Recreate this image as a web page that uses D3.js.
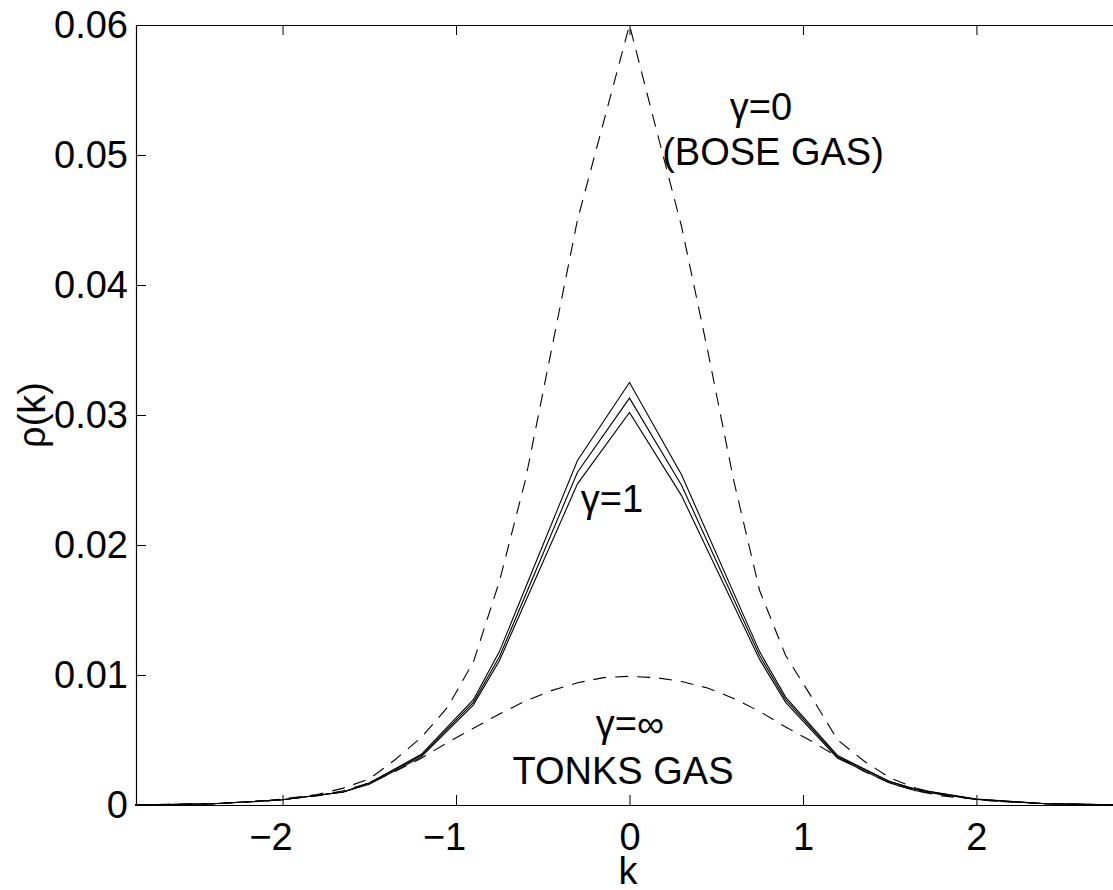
<!DOCTYPE html>
<html>
<head>
<meta charset="utf-8">
<script src="https://cdn.jsdelivr.net/npm/d3@7"></script>
<style>
  body { margin: 0; background: #fff; }
  svg { display: block; }
  text { font-family: "Liberation Sans", Arial, sans-serif; fill: #000; }
  .tick line { stroke: #000; }
  .domain { stroke: #000; }
</style>
</head>
<body>
<svg width="1113" height="890"></svg>
<script>
// gamma = 1 curves (three solid lines)
const kSolid = [-2.85, -2.4, -2.0, -1.65, -1.5, -1.2, -0.9, -0.75, -0.3, 0, 0.3, 0.75, 0.9, 1.2, 1.5, 1.65, 2.0, 2.4, 2.85];
const solidUpper = [0, 0.0001, 0.0004, 0.0010, 0.0017, 0.0039, 0.0081, 0.0118, 0.0265, 0.0325, 0.0254, 0.0118, 0.0083, 0.0038, 0.0018, 0.0012, 0.00045, 0.0001, 0];
const solidMid   = [0, 0.0001, 0.0004, 0.0010, 0.0017, 0.0038, 0.0079, 0.0114, 0.0256, 0.0313, 0.0246, 0.0115, 0.0081, 0.0037, 0.0018, 0.0012, 0.00044, 0.0001, 0];
const solidLower = [0, 0.0001, 0.0004, 0.0010, 0.0016, 0.0037, 0.0077, 0.0111, 0.0247, 0.0302, 0.0238, 0.0112, 0.0079, 0.0036, 0.0017, 0.0011, 0.00043, 0.0001, 0];

// gamma = 0 (Bose gas) and gamma = infinity (Tonks gas), dashed
const kDashed = [-2.85, -2.4, -2.1, -1.8, -1.65, -1.5, -1.35, -1.2, -1.05, -0.9, -0.75, -0.6, -0.45, -0.3, -0.15, 0, 0.15, 0.3, 0.45, 0.6, 0.75, 0.9, 1.05, 1.2, 1.35, 1.5, 1.65, 1.8, 2.1, 2.4, 2.85];
const bose  = [0, 0.0001, 0.0003, 0.0008, 0.0013, 0.0020, 0.0035, 0.0052, 0.0075, 0.0110, 0.0172, 0.0250, 0.0350, 0.0450, 0.0525, 0.0600, 0.0522, 0.0445, 0.0350, 0.0250, 0.0165, 0.0115, 0.0083, 0.0050, 0.0034, 0.0021, 0.0013, 0.0008, 0.0003, 0.0001, 0];
const tonks = [0, 0.0001, 0.0003, 0.0007, 0.0011, 0.0017, 0.0026, 0.0036, 0.0048, 0.0059, 0.0070, 0.0080, 0.0088, 0.0094, 0.0098, 0.0099, 0.0098, 0.0095, 0.0090, 0.0082, 0.0072, 0.0060, 0.0049, 0.0037, 0.0026, 0.0017, 0.0011, 0.0007, 0.0003, 0.0001, 0];

const xTicks = [-2, -1, 0, 1, 2];
const yTicks = [0, 0.01, 0.02, 0.03, 0.04, 0.05, 0.06];

const svg = d3.select('svg');
const margin = { top: 25, left: 136 };
const innerWidth = 987;
const innerHeight = 780;

const xScale = d3.scaleLinear().domain([-2.845, 2.845]).range([0, innerWidth]);
const yScale = d3.scaleLinear().domain([0, 0.06]).range([innerHeight, 0]);

const g = svg.append('g')
  .attr('transform', `translate(${margin.left},${margin.top})`);

const fmtX = d => (d < 0 ? '\u2212' + Math.abs(d) : String(d));

const xAxisG = g.append('g')
  .attr('transform', `translate(0,${innerHeight})`)
  .call(d3.axisBottom(xScale).tickValues(xTicks).tickFormat(fmtX)
    .tickSize(-10).tickSizeOuter(0).tickPadding(18));
xAxisG.selectAll('text')
  .attr('font-size', 38)
  .attr('dx', d => (d < 0 ? -12 : 0));

g.append('g')
  .call(d3.axisTop(xScale).tickValues(xTicks).tickFormat('')
    .tickSize(-10).tickSizeOuter(0));

const yAxisG = g.append('g')
  .call(d3.axisLeft(yScale).tickValues(yTicks).tickFormat(d => (d === 0 ? '0' : d3.format('.2f')(d)))
    .tickSize(-10).tickSizeOuter(0).tickPadding(8));
yAxisG.selectAll('text').attr('font-size', 38);

g.append('g')
  .attr('transform', `translate(${innerWidth},0)`)
  .call(d3.axisRight(yScale).tickValues(yTicks).tickFormat('')
    .tickSize(-10).tickSizeOuter(0));

g.selectAll('.domain').attr('stroke-width', 1.2);
g.selectAll('.tick line').attr('stroke-width', 1);

// curves
const line = ks => d3.line()
  .x((d, i) => xScale(ks[i]))
  .y(d => yScale(d));

[solidUpper, solidMid, solidLower].forEach(s => {
  g.append('path')
    .attr('d', line(kSolid)(s))
    .attr('fill', 'none')
    .attr('stroke', '#000')
    .attr('stroke-width', 1.1);
});

[bose, tonks].forEach(s => {
  g.append('path')
    .attr('d', line(kDashed)(s))
    .attr('fill', 'none')
    .attr('stroke', '#000')
    .attr('stroke-width', 1.1)
    .attr('stroke-dasharray', '13,9');
});

// labels
svg.append('text')
  .attr('x', 628).attr('y', 884)
  .attr('text-anchor', 'middle')
  .attr('font-size', 38)
  .text('k');

svg.append('text')
  .attr('transform', 'translate(45,415) rotate(-90)')
  .attr('text-anchor', 'middle')
  .attr('font-size', 38)
  .text('ρ(k)');

const notes = [
  { t: 'γ=0', x: 761, y: 120 },
  { t: '(BOSE GAS)', x: 773, y: 165 },
  { t: 'γ=1', x: 612, y: 512 },
  { t: 'γ=∞', x: 630, y: 737 },
  { t: 'TONKS GAS', x: 623, y: 784 }
];
svg.selectAll('text.note').data(notes).enter().append('text')
  .attr('class', 'note')
  .attr('x', d => d.x).attr('y', d => d.y)
  .attr('text-anchor', 'middle')
  .attr('font-size', 38)
  .text(d => d.t);
</script>
</body>
</html>
